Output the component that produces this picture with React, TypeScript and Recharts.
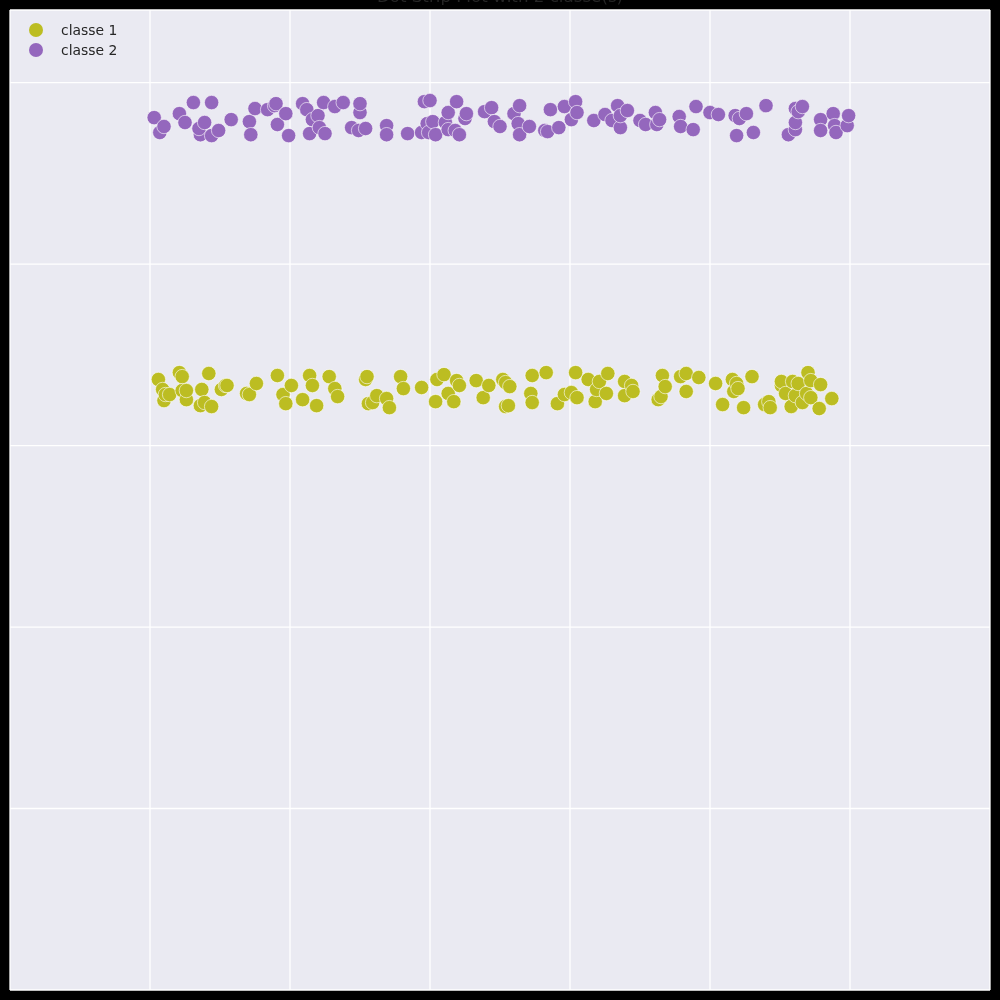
import { CartesianGrid, Scatter, ScatterChart, XAxis, YAxis } from "recharts";

const TITLE = "Dot Strip Plot with 2 classe(s)";
const CLASS_NAMES = ["classe 1", "classe 2"];
const CLASS_COLORS = ["#bcbd22", "#9467bd"];

const X_TICKS = [0, 1, 2, 3, 4, 5];
const Y_TICKS = [0, 1, 2, 3, 4];

// classe 1 (lower band)
const class1X = [
  0.06, 0.09, 0.1, 0.11, 0.14, 0.21, 0.23, 0.23, 0.26, 0.26, 0.36, 0.37, 0.39,
  0.42, 0.44, 0.51, 0.54, 0.55, 0.69, 0.71, 0.76, 0.91, 0.95, 0.97, 1.01, 1.09,
  1.14, 1.16, 1.19, 1.28, 1.32, 1.34, 1.54, 1.55, 1.56, 1.59, 1.62, 1.69, 1.71,
  1.79, 1.81, 1.94, 2.04, 2.05, 2.1, 2.13, 2.17, 2.19, 2.21, 2.33, 2.38, 2.42,
  2.52, 2.54, 2.54, 2.56, 2.57, 2.72, 2.73, 2.73, 2.83, 2.91, 2.96, 3.01, 3.04,
  3.05, 3.13, 3.18, 3.19, 3.21, 3.26, 3.27, 3.39, 3.39, 3.44, 3.45, 3.63, 3.65,
  3.66, 3.68, 3.79, 3.83, 3.83, 3.92, 4.04, 4.09, 4.16, 4.17, 4.19, 4.2, 4.24,
  4.3, 4.39, 4.42, 4.43, 4.51, 4.51, 4.54, 4.59, 4.58, 4.61, 4.63, 4.66, 4.69,
  4.7, 4.72, 4.72, 4.78, 4.79, 4.87,
];
const class1Y = [
  2.364, 2.309, 2.248, 2.281, 2.281, 2.402, 2.38, 2.303, 2.253, 2.303, 2.22,
  2.309, 2.237, 2.397, 2.215, 2.309, 2.331, 2.331, 2.287, 2.281, 2.342, 2.386,
  2.281, 2.231, 2.331, 2.253, 2.386, 2.331, 2.22, 2.38, 2.314, 2.27, 2.364,
  2.38, 2.231, 2.237, 2.275, 2.259, 2.209, 2.38, 2.314, 2.32, 2.242, 2.364,
  2.391, 2.287, 2.242, 2.358, 2.331, 2.358, 2.264, 2.331, 2.364, 2.347, 2.215,
  2.22, 2.325, 2.287, 2.237, 2.386, 2.402, 2.231, 2.281, 2.292, 2.402, 2.264,
  2.364, 2.242, 2.309, 2.353, 2.287, 2.397, 2.353, 2.275, 2.331, 2.298, 2.253,
  2.27, 2.386, 2.325, 2.38, 2.397, 2.298, 2.375, 2.342, 2.226, 2.364, 2.298,
  2.342, 2.314, 2.209, 2.38, 2.226, 2.242, 2.209, 2.331, 2.353, 2.287, 2.353,
  2.215, 2.275, 2.342, 2.237, 2.287, 2.402, 2.358, 2.264, 2.204, 2.336, 2.259,
];

// classe 2 (upper band)
const class2X = [
  0.03, 0.07, 0.1, 0.21, 0.25, 0.31, 0.36, 0.35, 0.39, 0.44, 0.44, 0.49, 0.58,
  0.71, 0.72, 0.75, 0.84, 0.89, 0.9, 0.91, 0.97, 0.99, 1.09, 1.12, 1.14, 1.16,
  1.2, 1.21, 1.24, 1.25, 1.32, 1.38, 1.44, 1.49, 1.5, 1.5, 1.54, 1.69, 1.69,
  1.84, 1.94, 1.96, 1.98, 1.99, 2.0, 2.02, 2.04, 2.11, 2.13, 2.13, 2.18, 2.19,
  2.21, 2.25, 2.26, 2.39, 2.44, 2.46, 2.5, 2.6, 2.63, 2.64, 2.64, 2.71, 2.82,
  2.84, 2.86, 2.92, 2.96, 3.01, 3.04, 3.05, 3.17, 3.25, 3.3, 3.34, 3.36, 3.36,
  3.41, 3.5, 3.54, 3.61, 3.62, 3.64, 3.78, 3.79, 3.88, 3.9, 4.0, 4.06, 4.18,
  4.19, 4.21, 4.26, 4.31, 4.4, 4.56, 4.61, 4.61, 4.61, 4.63, 4.66, 4.79, 4.79,
  4.88, 4.89, 4.9, 4.98, 4.99,
];
const class2Y = [
  3.807, 3.725, 3.758, 3.829, 3.78, 3.89, 3.713, 3.747, 3.78, 3.89, 3.708,
  3.736, 3.796, 3.785, 3.713, 3.857, 3.851, 3.873, 3.884, 3.769, 3.829, 3.708,
  3.884, 3.851, 3.719, 3.796, 3.818, 3.752, 3.89, 3.719, 3.868, 3.89, 3.752,
  3.736, 3.835, 3.884, 3.747, 3.763, 3.713, 3.719, 3.725, 3.895, 3.774, 3.725,
  3.901, 3.785, 3.713, 3.78, 3.835, 3.741, 3.736, 3.895, 3.713, 3.802, 3.829,
  3.84, 3.862, 3.785, 3.758, 3.829, 3.774, 3.873, 3.713, 3.758, 3.736, 3.73,
  3.851, 3.752, 3.868, 3.796, 3.895, 3.835, 3.791, 3.824, 3.791, 3.873, 3.752,
  3.818, 3.846, 3.791, 3.769, 3.835, 3.769, 3.796, 3.813, 3.758, 3.741, 3.868,
  3.835, 3.824, 3.818, 3.708, 3.802, 3.829, 3.725, 3.873, 3.713, 3.741, 3.78,
  3.857, 3.84, 3.868, 3.796, 3.736, 3.829, 3.763, 3.725, 3.763, 3.818,
];

const toPoints = (xs: number[], ys: number[]) =>
  xs.map((x, i) => ({ x, y: ys[i] }));

const SERIES = [toPoints(class1X, class1Y), toPoints(class2X, class2Y)];

const FONT = "'DejaVu Sans', sans-serif";

function Dot(color: string) {
  return (props: any) => (
    <circle
      cx={props.cx}
      cy={props.cy}
      r={7.2}
      fill={color}
      stroke="#ffffff"
      strokeWidth={0.6}
    />
  );
}

export default function App() {
  return (
    <div
      style={{
        position: "fixed",
        left: 0,
        top: 0,
        width: 1000,
        height: 1000,
        background: "#000000",
        fontFamily: FONT,
      }}
    >
      <ScatterChart
        width={1000}
        height={1000}
        margin={{ top: 10, right: 10, bottom: 10, left: 10 }}
      >
        <CartesianGrid fill="#eaeaf2" stroke="#ffffff" strokeWidth={1.3} />
        <XAxis
          type="number"
          dataKey="x"
          domain={[-1, 6]}
          ticks={X_TICKS}
          hide
        />
        <YAxis
          type="number"
          dataKey="y"
          domain={[-1, 4.4]}
          ticks={Y_TICKS}
          hide
        />
        {SERIES.map((data, i) => (
          <Scatter
            key={CLASS_NAMES[i]}
            name={CLASS_NAMES[i]}
            data={data}
            fill={CLASS_COLORS[i]}
            shape={Dot(CLASS_COLORS[i])}
            isAnimationActive={false}
          />
        ))}
      </ScatterChart>

      <div
        style={{
          position: "absolute",
          top: -14,
          left: 0,
          width: 1000,
          textAlign: "center",
          fontSize: 16.7,
          color: "#262626",
          lineHeight: "20px",
        }}
      >
        {TITLE}
      </div>

      <div style={{ position: "absolute", top: 20, left: 29 }}>
        {CLASS_NAMES.map((name, i) => (
          <div
            key={name}
            style={{ display: "flex", alignItems: "center", height: 20 }}
          >
            <svg width={14} height={14}>
              <circle cx={7} cy={7} r={7} fill={CLASS_COLORS[i]} />
            </svg>
            <span style={{ marginLeft: 18, fontSize: 13.9, color: "#262626" }}>
              {name}
            </span>
          </div>
        ))}
      </div>
    </div>
  );
}
